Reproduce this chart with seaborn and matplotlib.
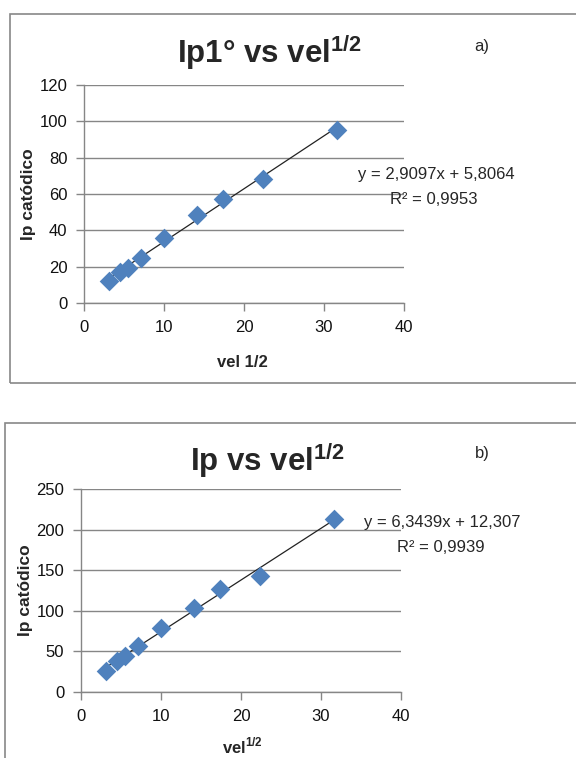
import numpy as np
import pandas as pd
import matplotlib
matplotlib.use("Agg")
import matplotlib.pyplot as plt
import seaborn as sns
from matplotlib.patches import Rectangle

# data
vel_sqrt = [3.16, 4.47, 5.48, 7.07, 10.0, 14.14, 17.32, 22.36, 31.62]
ip_a = [12, 17, 19, 25, 36, 48.5, 57.5, 68.5, 95]
ip_b = [26, 38, 44, 57, 79, 104, 127, 143, 213]

eq_a = ["y = 2,9097x + 5,8064", "R² = 0,9953"]
eq_b = ["y = 6,3439x + 12,307", "R² = 0,9939"]

sns.set_style("white")
fam = 'Liberation Sans'
plt.rcParams['font.family'] = [fam, 'DejaVu Sans']
plt.rcParams['mathtext.fontset'] = 'custom'
plt.rcParams['mathtext.rm'] = fam
plt.rcParams['mathtext.bf'] = fam + ':bold'

blue = '#4F81BD'
grid_c = '#868686'
W, H = 576, 758

fig = plt.figure(figsize=(5.76, 7.58), dpi=100)

# panel frames
fig.patches.append(Rectangle((10 / W, 1 - 383 / H), 600 / W, 369 / H, transform=fig.transFigure,
                             fill=False, edgecolor='#888888', lw=1.2))
fig.patches.append(Rectangle((5 / W, -0.05), 600 / W, (1 - 423 / H) + 0.05, transform=fig.transFigure,
                             fill=False, edgecolor='#888888', lw=1.2))

ax_a = fig.add_axes([84 / W, 1 - 303 / H, 320 / W, 218 / H])
ax_b = fig.add_axes([81 / W, 1 - 692 / H, 320 / W, 203 / H])

panels = [
    (ax_a, ip_a, 120, 20, eq_a),
    (ax_b, ip_b, 250, 50, eq_b),
]

for ax, ip, ymax, ystep, eq in panels:
    df = pd.DataFrame({'x': vel_sqrt, 'y': ip})
    sns.regplot(data=df, x='x', y='y', ax=ax, ci=None, scatter=False,
                line_kws=dict(color='#222222', lw=0.9))
    sns.scatterplot(data=df, x='x', y='y', ax=ax, marker='D', s=100, color=blue,
                    edgecolor=blue, linewidth=0, zorder=3)
    ax.set_xlim(0, 40)
    ax.set_ylim(0, ymax)
    ax.set_xticks(range(0, 41, 10))
    ax.set_yticks(range(0, ymax + 1, ystep))
    ax.grid(axis='y', color=grid_c, lw=1)
    ax.set_axisbelow(True)
    for s in ['top', 'right']:
        ax.spines[s].set_visible(False)
    for s in ['left', 'bottom']:
        ax.spines[s].set_color(grid_c)
        ax.spines[s].set_linewidth(1)
    ax.tick_params(axis='both', direction='out', length=6, width=1, color=grid_c,
                   labelsize=12, labelcolor='#111111', pad=6, left=True, bottom=True)
    ax.set_xlabel('')
    ax.set_ylabel('Ip catódico', fontsize=12.5, fontweight='bold')
    ax.yaxis.set_label_coords(-0.15, 0.5)

# titles and labels in figure pixel coordinates
def ftext(x, y, s, **kw):
    fig.text(x / W, 1 - y / H, s, **kw)

ftext(270, 53, r'Ip1° vs vel$^{\mathbf{1/2}}$', fontsize=22.5, fontweight='bold', ha='center', va='center')
ftext(268, 460, r'Ip vs vel$^{\mathbf{1/2}}$', fontsize=22.5, fontweight='bold', ha='center', va='center')
ftext(482, 47, 'a)', fontsize=12, ha='center', va='center')
ftext(482, 453, 'b)', fontsize=12, ha='center', va='center')

ftext(242, 363, 'vel 1/2', fontsize=12, fontweight='bold', ha='center', va='center')
ftext(242, 746, r'vel$^{\mathbf{1/2}}$', fontsize=12, fontweight='bold', ha='center', va='center')

ftext(515, 174, eq_a[0], fontsize=12, ha='right', va='center')
ftext(478, 200, eq_a[1], fontsize=12, ha='right', va='center')
ftext(520, 523, eq_b[0], fontsize=12, ha='right', va='center')
ftext(485, 547, eq_b[1], fontsize=12, ha='right', va='center')

fig.savefig('out.png', dpi=100)
